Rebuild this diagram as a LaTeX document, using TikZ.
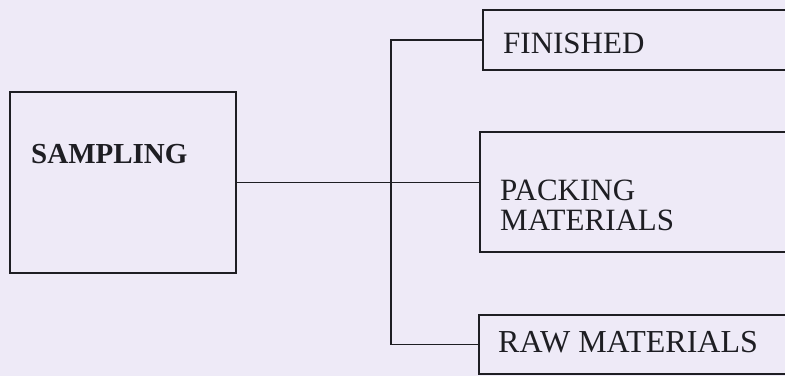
\documentclass[tikz,border=0pt]{standalone}
\usepackage{fontspec}
\setmainfont{Liberation Serif}
\definecolor{paper}{RGB}{238,234,247}
\definecolor{ink}{RGB}{30,30,35}
\begin{document}
\begin{tikzpicture}[x=1pt,y=1pt,
  box/.style={draw=ink,line width=1.8pt,rectangle,inner sep=0pt,minimum width=420pt},
  wire/.style={draw=ink,line width=1.8pt},
  lbl/.style={anchor=west,inner sep=0pt,text=ink,align=left,font=\fontsize{31}{30}\selectfont}]
\fill[paper] (0,0) rectangle (785,376);\clip (0,0) rectangle (785,376);
\node[box,minimum width=226pt,minimum height=181pt] (samp) at (123,193.5){};
\node[box,minimum height=60pt,anchor=west] (fin) at (482,336){};
\node[box,minimum height=120pt,anchor=west] (pack) at (479,184){};
\node[box,minimum height=59pt,anchor=west] (raw) at (478,31.5){};
\node[lbl,font=\bfseries\fontsize{29}{30}\selectfont] (samplbl) at (31,222){SAMPLING};
\node[lbl] (finlbl) at (503,333){FINISHED};
\node[lbl] (packlbl) at (500,171){PACKING\\MATERIALS};
\node[lbl,font=\fontsize{32}{30}\selectfont] (rawlbl) at (498,34){RAW MATERIALS};
\coordinate (bus) at (391,192);
\draw[wire] (samp.east) -- (samp.east -| pack.west);
\draw[wire] (fin.west) -| (bus) |- (raw.west);
\end{tikzpicture}
\end{document}
